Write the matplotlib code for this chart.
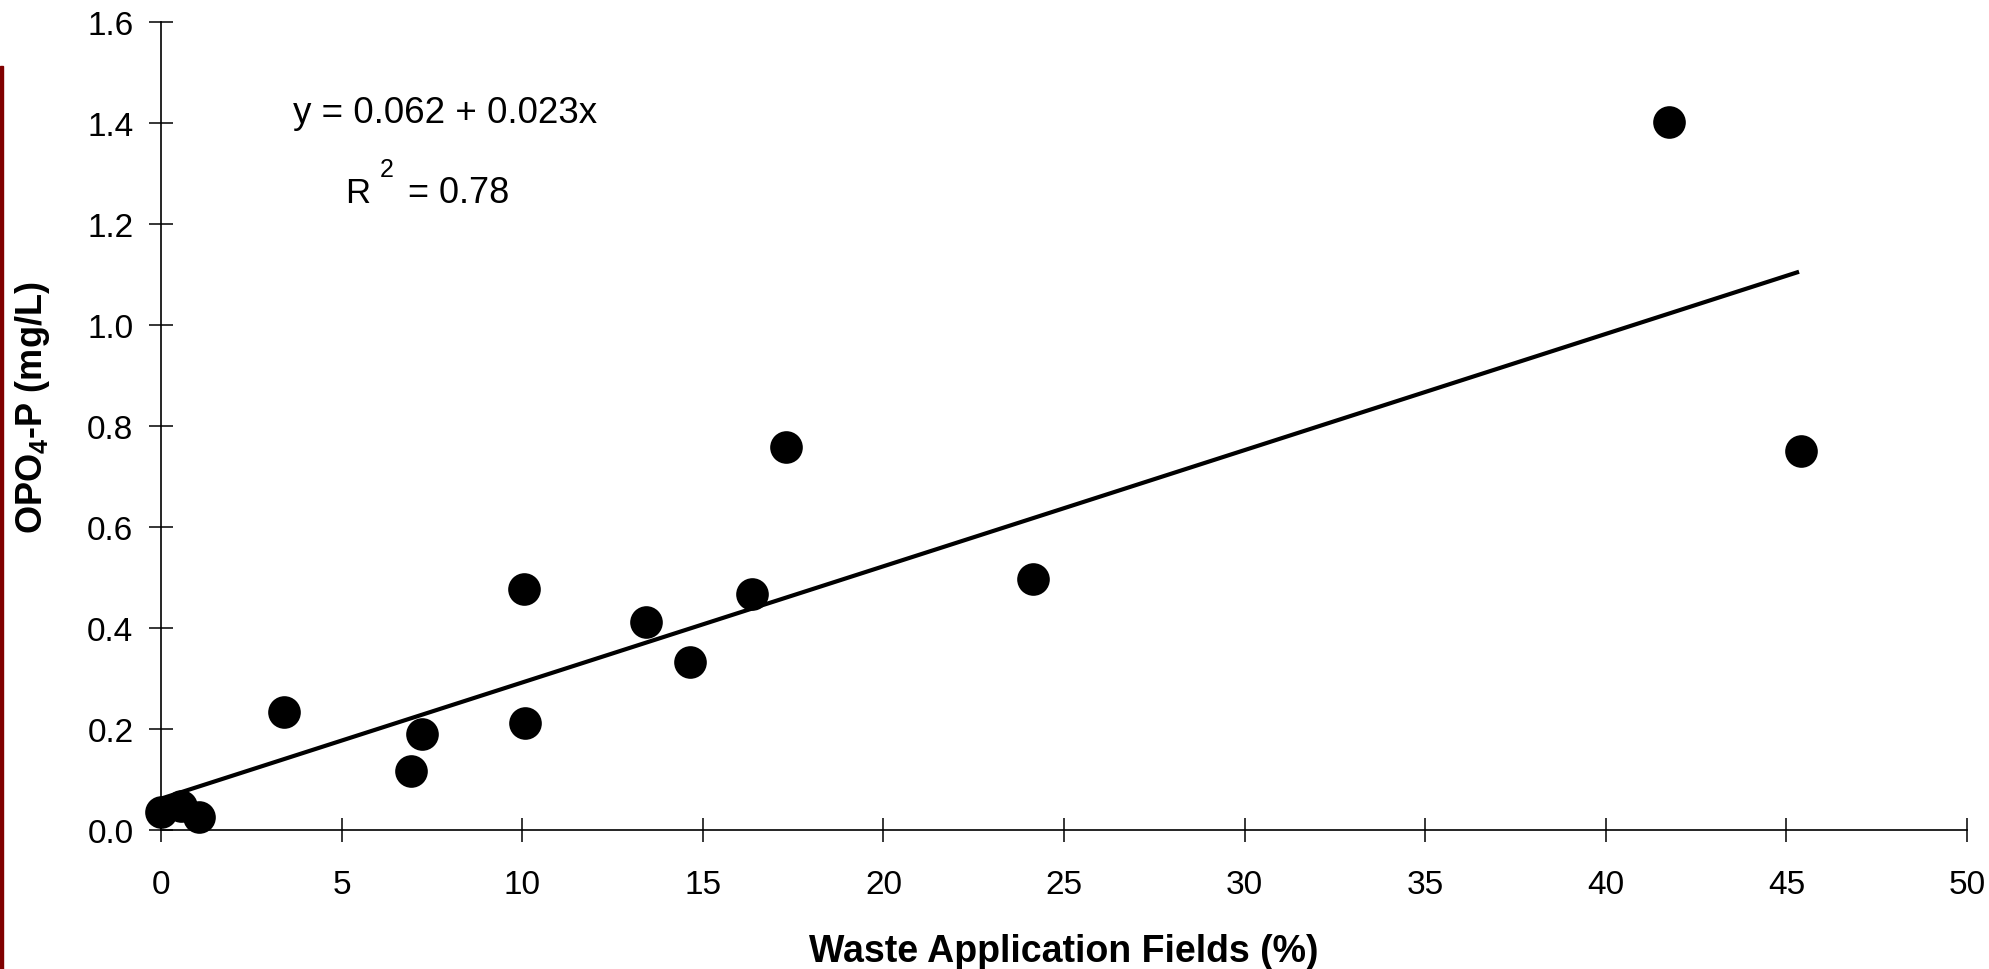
import matplotlib
matplotlib.use("Agg")
import matplotlib.pyplot as plt
from matplotlib.patches import Rectangle
import numpy as np

# ---- data ----
waste_pct = [0.0, 0.55, 1.05, 3.4, 6.92, 7.22, 10.04, 10.09, 13.44, 14.64,
             16.36, 17.29, 24.13, 41.75, 45.40]
opo4_p = [0.035, 0.048, 0.025, 0.234, 0.116, 0.19, 0.477, 0.211, 0.411, 0.332,
          0.467, 0.759, 0.497, 1.402, 0.751]
intercept = 0.062
slope = 0.023
fit_x_range = [0.0, 45.35]
x_ticks = [0, 5, 10, 15, 20, 25, 30, 35, 40, 45, 50]
y_ticks = [0.0, 0.2, 0.4, 0.6, 0.8, 1.0, 1.2, 1.4, 1.6]

plt.rcParams['font.family'] = ['Liberation Sans', 'DejaVu Sans']
plt.rcParams['mathtext.fontset'] = 'custom'
plt.rcParams['mathtext.rm'] = 'Liberation Sans'
plt.rcParams['mathtext.bf'] = 'Liberation Sans:bold'

W, H = 1990, 970
fig = plt.figure(figsize=(W / 100, H / 100), dpi=100)
x0, x1 = 161, 1967
y0, y1 = 831, 22.7
ax = fig.add_axes([x0 / W, (H - y0) / H, (x1 - x0) / W, (y0 - y1) / H])

ax.set_xlim(0, 50)
ax.set_ylim(0, 1.6)
for s in ['top', 'right']:
    ax.spines[s].set_visible(False)
for s in ['left', 'bottom']:
    ax.spines[s].set_linewidth(1.2)
    ax.spines[s].set_color('black')

ax.set_xticks(x_ticks)
ax.set_yticks(y_ticks)
ax.set_xticklabels([str(t) for t in x_ticks])
ax.set_yticklabels([f"{t:.1f}" for t in y_ticks])
ax.tick_params(axis='both', direction='inout', length=16.6, width=1.1,
               labelsize=24, colors='black')
ax.tick_params(axis='x', pad=19.5)
ax.tick_params(axis='y', pad=11.5)

# regression line
fx = np.array(fit_x_range)
ax.plot(fx, intercept + slope * fx, color='black', lw=3.0, solid_capstyle='butt',
        clip_on=False, zorder=3)

# points
ax.plot(waste_pct, opo4_p, linestyle='none', marker='o', markersize=23.5,
        color='black', markeredgewidth=0, clip_on=False, zorder=4)

# equation text
ax.text(3.65, 1.401, "y = 0.062 + 0.023x", fontsize=26.5, ha='left',
        va='baseline')
ax.text(5.09, 1.243, "R", fontsize=25, ha='left', va='baseline')
ax.text(6.06, 1.294, "2", fontsize=18, ha='left', va='baseline')
ax.text(6.83, 1.243, "= 0.78", fontsize=26, ha='left', va='baseline')

# axis labels
fig.text(1064 / W, 1 - 952 / H, "Waste Application Fields (%)", fontsize=27,
         fontweight='bold', ha='center', va='center')
fig.text(33 / W, 1 - 408 / H, r"OPO$_\mathbf{4}$-P (mg/L)", fontsize=26,
         fontweight='bold', ha='center', va='center', rotation=90)

# dark red border on the left edge
fig.patches.append(Rectangle((0, 0), 3 / W, (H - 67) / H,
                             transform=fig.transFigure, color='#800000',
                             zorder=5))

fig.savefig("out.png", dpi=100)
